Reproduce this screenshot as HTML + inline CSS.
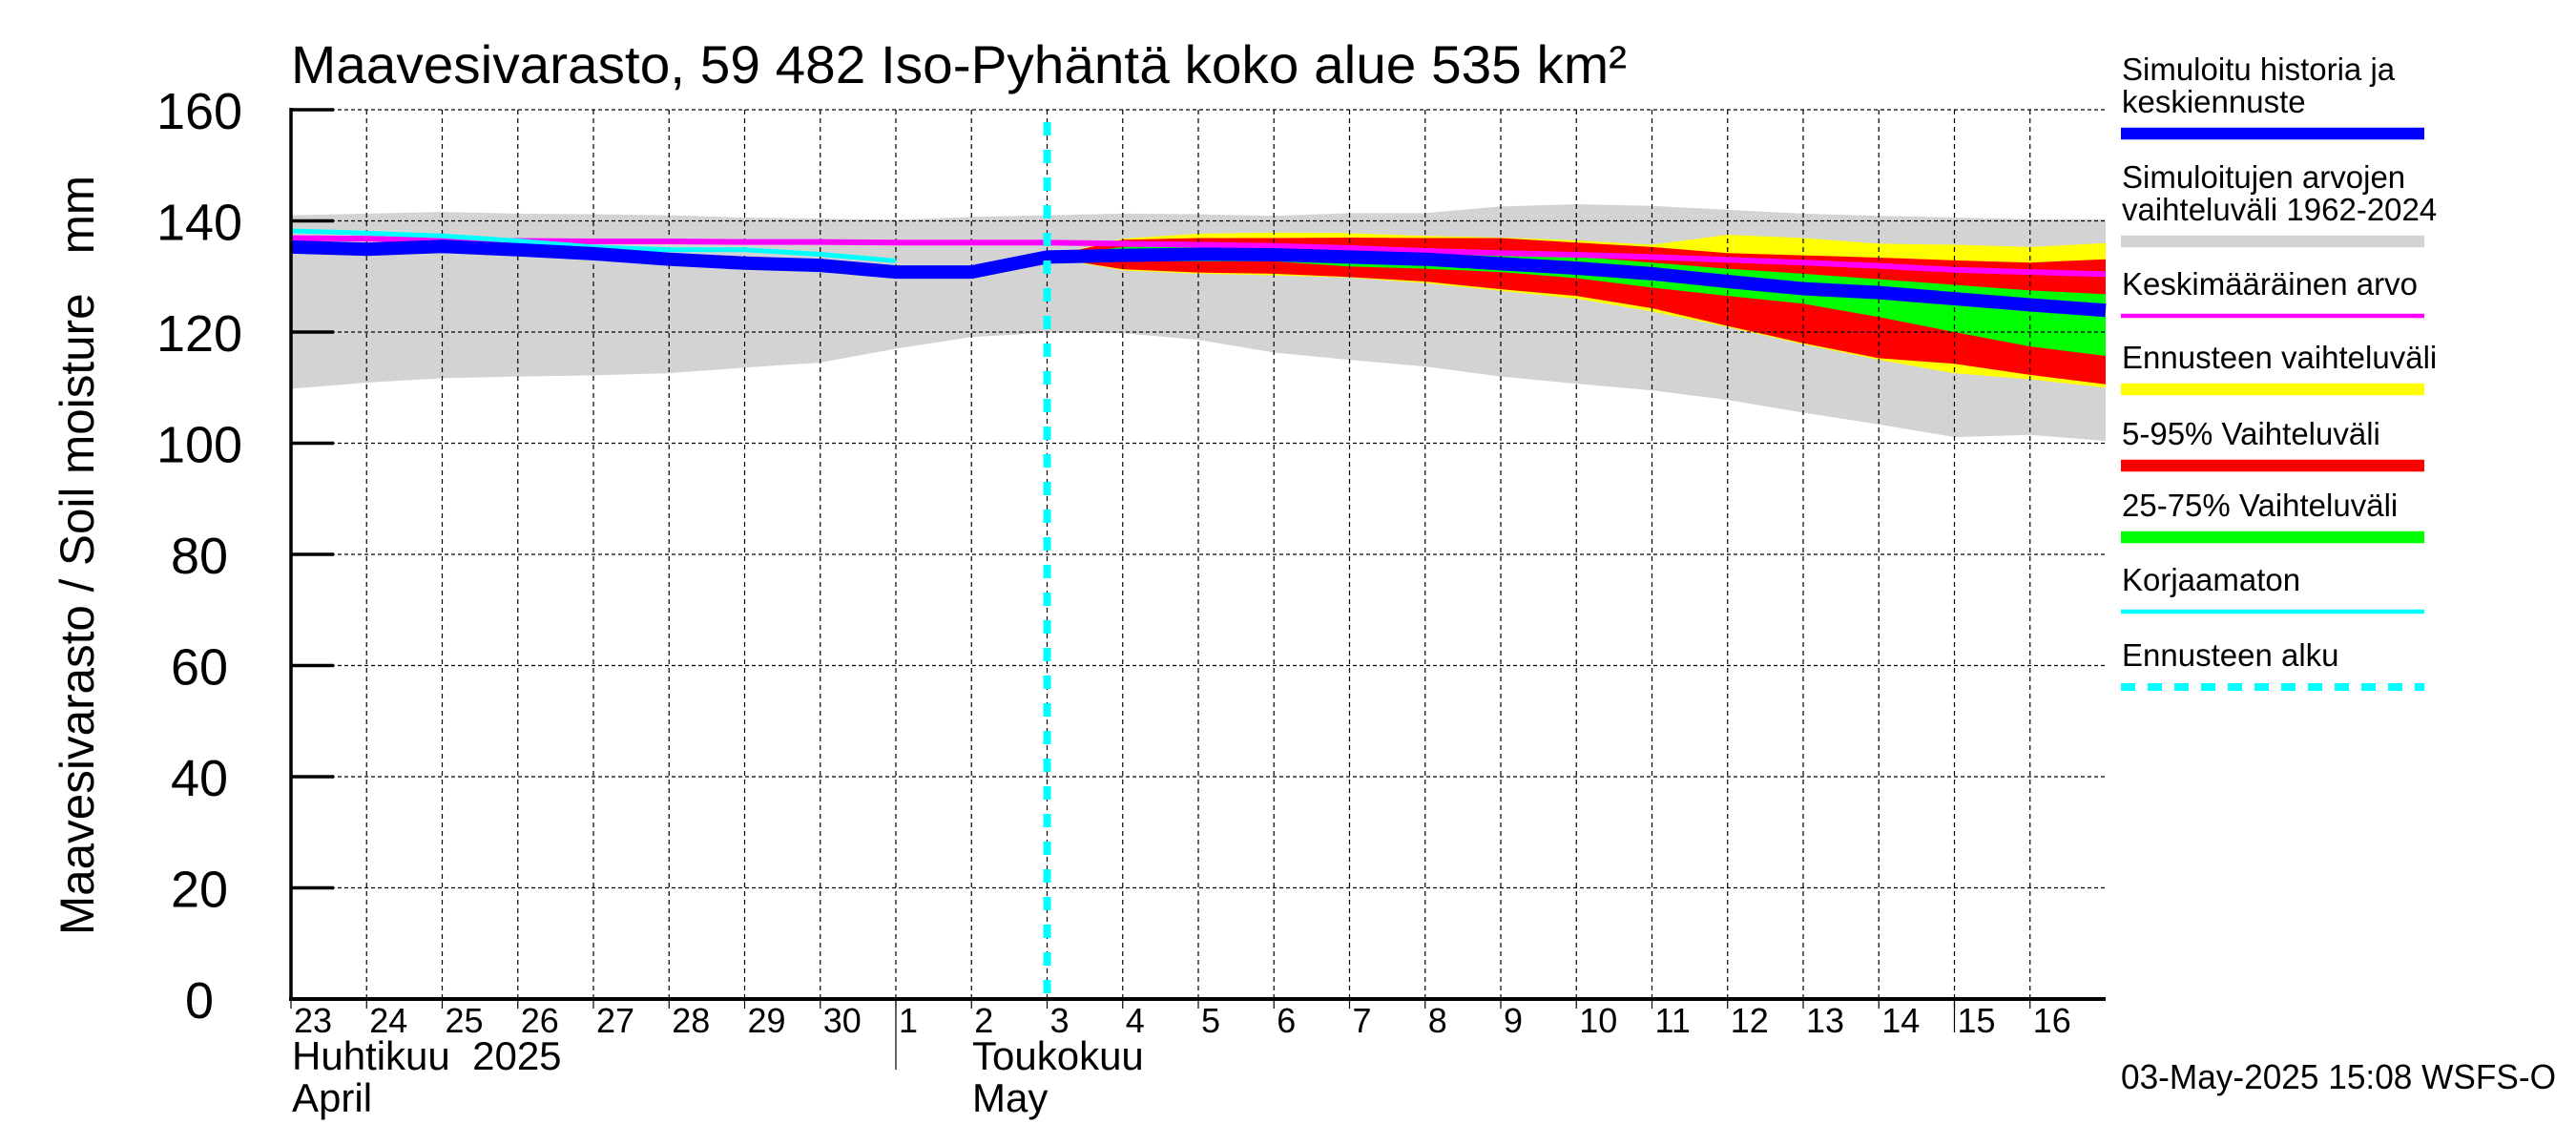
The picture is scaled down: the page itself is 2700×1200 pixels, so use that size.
<!DOCTYPE html>
<html><head><meta charset="utf-8"><style>
html,body{margin:0;padding:0;background:#fff;}
svg{display:block;font-family:"Liberation Sans",Arial,sans-serif;}
</style></head><body>
<svg id="chart" width="2700" height="1200" viewBox="0 0 2700 1200" xmlns="http://www.w3.org/2000/svg">
<text x="305" y="87" font-size="56" textLength="1400" lengthAdjust="spacingAndGlyphs">Maavesivarasto, 59 482 Iso-Pyhäntä koko alue 535 km²</text>
<text transform="translate(98,582) rotate(-90)" text-anchor="middle" font-size="50" textLength="796" lengthAdjust="spacingAndGlyphs">Maavesivarasto / Soil moisture&#160;&#160;&#160;mm</text>
<g id="bands"></g>
<g id="grid"></g>
<g id="lines"></g>
<g id="axes"></g>
<text x="306" y="1121" font-size="42">Huhtikuu&#160;&#160;2025</text>
<text x="306" y="1165" font-size="42">April</text>
<text x="1019" y="1121" font-size="42">Toukokuu</text>
<text x="1019" y="1165" font-size="42">May</text>
<text x="2223" y="1141" font-size="36" textLength="456" lengthAdjust="spacingAndGlyphs">03-May-2025 15:08 WSFS-O</text>
<g id="legend"></g>
</svg>
<script>
const dayLabels=["23","24","25","26","27","28","29","30","1","2","3","4","5","6","7","8","9","10","11","12","13","14","15","16"];
const yTicks=[0,20,40,60,80,100,120,140,160];
// history (day index 0..10)
const histBlue=[135.3,134.9,135.4,134.8,134.1,133.1,132.4,132.0,130.8,130.8,133.5];
const histCyan=[138.2,137.8,137.3,136.4,135.3,134.8,134.8,134.0,132.8];
const meanVals=[136.9,136.8,136.5,136.4,136.3,136.3,136.2,136.2,136.1,136.1,136.1,135.9,135.7,135.5,135.1,134.6,134.2,133.9,133.5,133.0,132.5,131.9,131.2,130.8,130.4];
const greyTop=[141.0,141.3,141.6,141.3,141.2,141.0,140.6,140.4,140.2,140.7,141.0,141.3,141.2,140.9,141.4,141.4,142.6,143.0,142.7,142.0,141.3,140.9,140.6,140.3,140.3];
const greyBot=[109.8,110.9,111.7,112.0,112.2,112.6,113.6,114.5,117.0,119.1,119.9,119.8,118.6,116.3,115.0,113.8,112.0,110.7,109.5,107.8,105.5,103.4,101.1,101.5,100.4];
// forecast (day index 10..24)
const yelTop=[133.5,136.8,137.7,137.9,137.8,137.3,137.0,136.5,135.7,137.5,136.9,135.9,135.7,135.3,136.0];
const redTop=[133.5,136.6,136.9,136.9,137.0,136.9,136.9,136.1,135.3,134.2,133.8,133.4,132.9,132.5,133.1];
const grnTop=[133.5,135.3,135.5,135.5,135.3,134.8,134.4,133.6,132.5,131.4,130.5,129.5,128.5,127.5,126.8];
const fcBlue=[133.5,133.8,134.0,133.9,133.5,133.1,132.3,131.5,130.5,129.1,127.8,127.1,126.0,124.9,123.9];
const grnBot=[133.5,132.7,132.7,132.7,131.8,131.4,130.8,129.7,128.0,126.5,125.1,122.7,120.0,117.4,115.7];
const redBot=[133.5,131.3,130.7,130.5,129.9,129.1,127.7,126.5,124.3,121.1,118.0,115.3,114.3,112.3,110.6];
const yelBot=[133.5,131.1,130.5,130.2,129.8,128.8,127.4,126.0,123.7,120.9,117.8,115.0,112.6,111.5,110.0];
const forecastStartDay=10;

const NS="http://www.w3.org/2000/svg";
const X0=305,DX=79.25,Y0=1047,KY=5.825;
function xs(d){return X0+d*DX;}
function ys(v){return Y0-v*KY;}
function mk(tag,attrs,parent){const e=document.createElementNS(NS,tag);for(const k in attrs)e.setAttribute(k,attrs[k]);parent.appendChild(e);return e;}
function band(top,bot,off,color,name,parent){
  let pts=top.map((v,i)=>xs(i+off)+","+ys(v));
  for(let i=bot.length-1;i>=0;i--)pts.push(xs(i+off)+","+ys(bot[i]));
  const p=mk("polygon",{points:pts.join(" "),fill:color},parent);
  
  
}
function line(vals,off,color,w,name,parent,dash){
  const p=mk("polyline",{points:vals.map((v,i)=>xs(i+off)+","+ys(v)).join(" "),fill:"none",stroke:color,"stroke-width":w,"stroke-linejoin":"round"},parent);
  if(dash)p.setAttribute("stroke-dasharray",dash);
  
  
}
const bands=document.getElementById("bands");
band(greyTop,greyBot,0,"#d3d3d3","simulated-range-band",bands);
band(yelTop,yelBot,forecastStartDay,"#ffff00","forecast-range-band",bands);
band(redTop,redBot,forecastStartDay,"#ff0000","band-5-95",bands);
band(grnTop,grnBot,forecastStartDay,"#00ff00","band-25-75",bands);

const grid=document.getElementById("grid");
for(let d=1;d<24;d++){
  const l=mk("line",{x1:xs(d),x2:xs(d),y1:115,y2:Y0,stroke:"#000","stroke-width":1.2,"stroke-dasharray":"5,4"},grid);
  
  
}
yTicks.forEach(v=>{
  if(v===0)return;
  const l=mk("line",{x1:X0,x2:xs(24),y1:ys(v),y2:ys(v),stroke:"#000","stroke-width":1.2,"stroke-dasharray":"4,3"},grid);
  
  
});

const lines=document.getElementById("lines");
line(meanVals,0,"#ff00ff",6,"mean-line",lines);
line(histCyan,0,"#00ffff",5,"uncorrected-line",lines);
line(histBlue.concat(fcBlue.slice(1)),0,"#0000ff",14,"simulated-line",lines);
const fs=mk("line",{x1:xs(forecastStartDay),x2:xs(forecastStartDay),y1:128,y2:Y0,stroke:"#00ffff","stroke-width":8,"stroke-dasharray":"14,15"},lines);



const axes=document.getElementById("axes");
mk("line",{x1:X0,x2:X0,y1:113,y2:Y0+2,stroke:"#000","stroke-width":3.5},axes);
mk("line",{x1:X0-2,x2:xs(24),y1:Y0,y2:Y0,stroke:"#000","stroke-width":4},axes);
yTicks.forEach(v=>{
  const t=mk("line",{x1:X0,x2:350,y1:ys(v),y2:ys(v),stroke:"#000","stroke-width":3.5},axes);
  
  
  const tx=mk("text",{x:209,y:ys(v)+20,"text-anchor":"middle","font-size":54},axes);
  tx.textContent=v;
  
  
});
dayLabels.forEach((s,i)=>{
  const t=mk("line",{x1:xs(i),x2:xs(i),y1:Y0,y2:Y0+10,stroke:"#000","stroke-width":1.2},axes);
  
  
  const tx=mk("text",{x:xs(i)+3,y:1082,"font-size":36},axes);
  tx.textContent=s;
  
  
});
const ms=mk("line",{x1:xs(8),x2:xs(8),y1:Y0,y2:1121,stroke:"#000","stroke-width":1.2},axes);


const ws=mk("line",{x1:xs(22),x2:xs(22),y1:Y0,y2:1082,stroke:"#000","stroke-width":1.2},axes);



const legendTexts=[["Simuloitu historia ja","keskiennuste"],["Simuloitujen arvojen","vaihteluväli 1962-2024"],["Keskimääräinen arvo"],["Ennusteen vaihteluväli"],["5-95% Vaihteluväli"],["25-75% Vaihteluväli"],["Korjaamaton"],["Ennusteen alku"]];
const legendColors=["#0000ff","#d3d3d3","#ff00ff","#ffff00","#ff0000","#00ff00","#00ffff","#00ffff"];
const legendWidths=[12.5,12.5,4.5,12.5,12.5,12.5,4.5,8];
const legendLineY=[140,253,331,408,488,563,641,720];
const legend=document.getElementById("legend");
legendTexts.forEach((lines2,i)=>{
  const y=legendLineY[i];
  lines2.forEach((s,j)=>{
    const base=y-22-(lines2.length-1-j)*34;
    const tx=mk("text",{x:2224,y:base,"font-size":33},legend);
    tx.textContent=s;
    
    
  });
  const l=mk("line",{x1:2223,x2:2541,y1:y,y2:y,stroke:legendColors[i],"stroke-width":legendWidths[i]},legend);
  if(i===7)l.setAttribute("stroke-dasharray","15,13");
  
  
});
</script>
</body></html>
